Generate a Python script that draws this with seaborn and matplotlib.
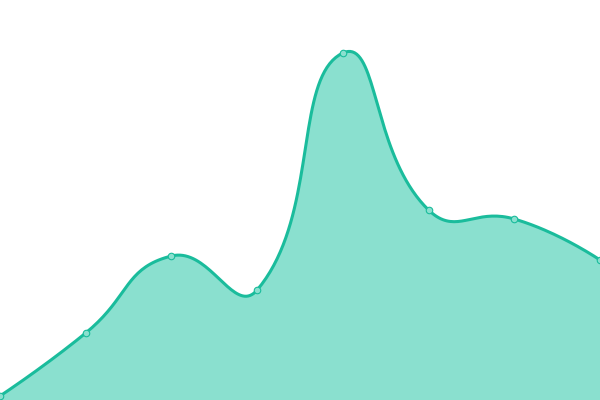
import numpy as np
import pandas as pd
import matplotlib
matplotlib.use("Agg")
import matplotlib.pyplot as plt
import seaborn as sns

# valores (altura acima da base)
categorias = [0, 1, 2, 3, 4, 5, 6, 7]
valores = [4, 67, 144, 110, 347, 190, 181, 140]

cor_linha = "#1abc9c"
cor_area = "#8ae0cf"

df = pd.DataFrame({"x": categorias, "y": valores})


def suavizar(xs, ys, smooth=0.5, escala_x=600 / 7, n=40):
    # bezier com alças proporcionais à distância entre pontos (em pixels)
    P = np.column_stack([np.asarray(xs, float) * escala_x, np.asarray(ys, float)])
    m = len(P)
    cp_in = P.copy()
    cp_out = P.copy()
    for i in range(1, m - 1):
        v = (P[i + 1] - P[i - 1]) * smooth
        d0 = np.linalg.norm(P[i] - P[i - 1])
        d1 = np.linalg.norm(P[i + 1] - P[i])
        cp_in[i] = P[i] - v * d0 / (d0 + d1)
        cp_out[i] = P[i] + v * d1 / (d0 + d1)
    s = np.linspace(0, 1, n)[:, None]
    pts = []
    for i in range(m - 1):
        p1, c1, c2, p2 = P[i], cp_out[i], cp_in[i + 1], P[i + 1]
        b = (1 - s) ** 3 * p1 + 3 * (1 - s) ** 2 * s * c1 + 3 * (1 - s) * s ** 2 * c2 + s ** 3 * p2
        pts.append(b)
    pts = np.vstack(pts)
    return pts[:, 0] / escala_x, pts[:, 1]


sx, sy = suavizar(df["x"], df["y"])

sns.set_theme(style="white")
fig = plt.figure(figsize=(6, 4), dpi=100)
ax = fig.add_axes([0, 0, 1, 1])

ax.fill_between(sx, 0, sy, color=cor_area, linewidth=0, zorder=1)
sns.lineplot(x=sx, y=sy, ax=ax, color=cor_linha, linewidth=2.2, zorder=2, sort=False)
sns.scatterplot(data=df, x="x", y="y", ax=ax, s=22, color=cor_area,
                edgecolor=cor_linha, linewidth=0.8, zorder=3, clip_on=False)

ax.set_xlim(0, 7)
ax.set_ylim(0, 400)
ax.axis("off")

fig.savefig("out.png", dpi=100)
